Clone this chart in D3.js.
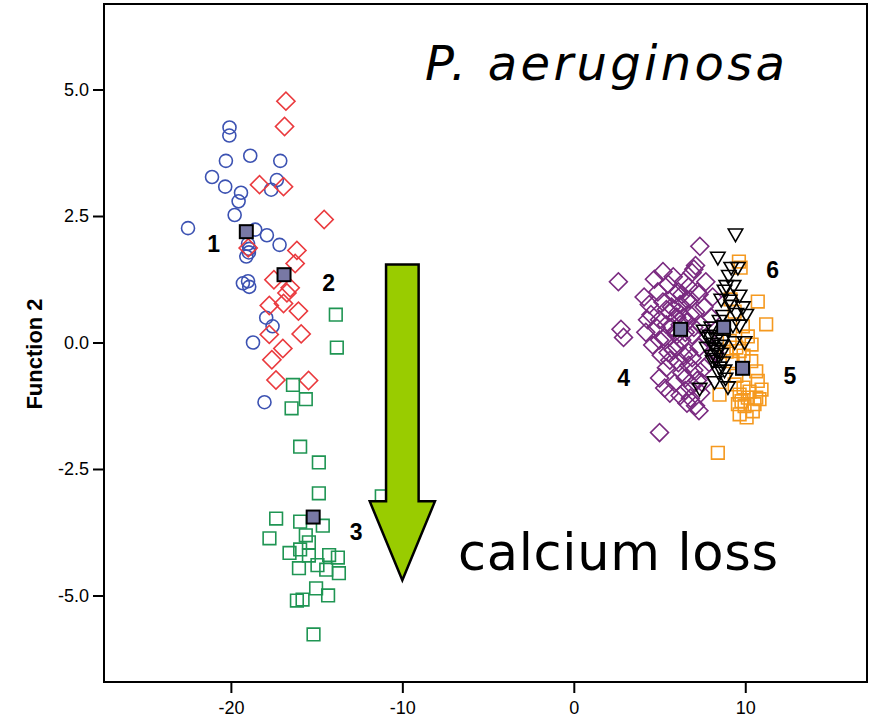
<!DOCTYPE html>
<meta charset="utf-8">
<script src="https://d3js.org/d3.v7.min.js"></script>
<style>
  body { margin: 0; background: #fff; }
</style>
<body>
<script>

// group 1 - circles
var g1 = [[-20.08,4.25],[-20.09,4.09],[-18.87,3.69],[-20.29,3.59],[-17.12,3.59],[-21.10,3.27],[-20.33,3.08],
  [-19.41,2.96],[-17.32,3.21],[-17.65,3.02],[-19.55,2.79],[-19.78,2.52],[-22.50,2.26],[-18.58,2.23],[-17.90,2.12],
  [-17.16,1.93],[-19.00,1.95],[-18.93,1.85],[-18.95,1.78],[-19.10,1.70],[-19.30,1.17],[-19.00,1.21],[-18.93,1.10],
  [-17.94,0.49],[-17.57,0.32],[-18.71,0.00],[-18.04,-1.18]]
// group 2 - red diamonds
var g2 = [[-16.79,4.77],[-16.87,4.27],[-18.33,3.12],[-16.93,3.08],[-14.56,2.43],[-16.15,1.82],[-16.25,1.56],
  [-18.99,1.87],[-17.49,1.24],[-16.54,1.08],[-16.73,0.98],[-16.06,0.62],[-17.76,0.73],[-16.93,0.77],[-17.76,0.16],
  [-15.90,0.17],[-16.97,-0.12],[-17.61,-0.34],[-17.37,-0.74],[-15.47,-0.75]]
// group 3 - green squares
var g3 = [[-13.88,0.55],[-13.82,-0.10],[-16.38,-0.84],[-15.63,-1.12],[-16.46,-1.30],[-15.96,-2.06],[-14.87,-2.37],
  [-14.87,-2.98],[-11.20,-3.04],[-17.36,-3.48],[-15.96,-3.54],[-14.64,-3.62],[-17.75,-3.87],[-15.63,-3.81],
  [-15.45,-3.95],[-15.96,-4.09],[-16.58,-4.16],[-14.27,-4.20],[-13.76,-4.25],[-15.45,-4.21],[-16.03,-4.46],
  [-14.95,-4.40],[-14.44,-4.49],[-13.70,-4.56],[-15.03,-4.86],[-14.33,-5.00],[-16.15,-5.10],[-15.82,-5.08],[-15.18,-5.77]]
// group 4 - purple diamonds
var g4 = [[2.6,1.2],[2.75,0.26],[2.9,0.1],[5.0,-1.78],[7.35,1.9],[7.0,1.45],[6.9,1.38],[7.1,1.52],
  [4.1,0.9],[4.5,0.55],[4.2,0.2],[4.6,-0.05],[4.4,0.75],[4.9,1.0],[5.0,0.45],[5.2,0.8],[5.1,-0.25],[5.3,0.1],
  [5.5,1.15],[5.6,0.6],[5.4,-0.5],[5.7,0.3],[5.8,-0.15],[5.9,0.95],[6.0,0.5],[6.1,-0.4],[6.2,0.75],[6.3,0.05],
  [6.4,1.2],[6.5,-0.7],[6.6,0.4],[6.7,-0.2],[6.8,0.85],[6.9,0.15],[7.0,-0.55],[7.1,0.6],[7.2,1.0],[7.3,-0.1],
  [7.4,0.35],[7.5,-0.8],[7.6,0.7],[7.8,0.1],[7.9,-0.4],[8.0,0.5],[5.0,-0.7],[5.3,-0.9],[5.6,-1.0],[5.9,-0.8],
  [6.2,-1.05],[6.5,-0.95],[6.8,-1.1],[7.1,-1.25],[7.4,-1.0],[4.8,0.3],[5.4,0.35],[6.0,0.15],[6.6,0.85],[7.3,0.95],
  [6.3,-0.6],[5.8,1.3],[6.7,1.1],[7.7,1.2],[7.0,0.3],[6.1,1.0],[5.5,-0.2],[6.9,-0.85],[7.6,-0.5],[4.7,1.25],
  [5.2,1.4],[8.1,0.9],[8.2,-0.2],[7.3,-1.35],[6.4,0.5],[5.0,0.05],[4.3,0.45],
  [5.9,0.2],[6.2,0.35],[6.5,0.2],[6.0,-0.1],[6.4,-0.25],[6.8,0.55],[5.7,0.7],[6.3,0.95],[6.7,-0.45],[5.6,-0.35],
  [6.1,0.6],[6.9,-0.3],[5.4,0.65],[7.2,-0.75],[6.6,-1.2]]
// group 5 - orange squares
var g5 = [[9.63,1.60],[9.73,1.48],[10.73,0.81],[11.22,0.36],[10.15,0.12],[9.86,0.32],[9.09,0.03],[9.48,-0.10],
  [9.67,-0.17],[10.35,-0.37],[10.64,-0.57],[10.73,-0.76],[9.48,-0.66],[8.50,-1.03],[9.67,-1.03],[10.15,-1.09],
  [10.64,-1.09],[9.57,-1.22],[9.96,-1.26],[10.44,-1.36],[9.67,-1.42],[10.83,-1.12],[8.40,-2.18],[9.90,-0.89],
  [10.25,-0.97],[9.78,-1.16],[10.54,-1.22],[10.08,-1.48],[9.38,-0.83],[10.95,-0.93],[9.26,-0.37],[8.91,-0.18],
  [10.37,-0.04],[9.90,-0.26],[9.38,0.61],[9.14,0.85]]
// group 6 - triangles
var g6 = [[9.43,2.16],[8.40,1.70],[9.18,1.50],[9.57,1.50],[9.04,1.34],[8.89,1.14],[8.79,1.05],[9.67,0.95],
  [8.60,0.87],[9.18,0.75],[9.86,0.72],[9.48,0.59],[10.06,0.57],[8.70,0.55],[8.02,0.32],[9.28,0.36],[9.67,0.36],
  [7.82,0.12],[8.31,0.09],[8.70,0.06],[9.38,0.03],[9.96,0.03],[8.21,-0.10],[8.60,-0.20],[8.31,-0.30],[8.70,-0.37],
  [8.50,-0.47],[8.79,-0.53],[8.21,-0.76],[8.99,-0.86],[7.34,-0.89],[7.92,0.16],[8.10,0.0],[8.39,-0.14],[8.04,-0.24],
  [8.62,-0.04],[7.75,-0.08],[8.44,-0.57],[8.10,-0.34],[8.85,-0.69],[7.57,0.26],[9.09,0.85],[8.50,0.45],[9.32,1.14]]

// group centroids and their labels
var centroids = [[-19.1,2.19],[-16.9,1.34],[-15.2,-3.45],[6.23,0.26],[9.84,-0.51],[8.74,0.30]]
var centroidNames = ["1","2","3","4","5","6"]
var namePos = [[-21.0,1.78],[-14.3,1.02],[-12.7,-3.9],[2.9,-0.86],[12.6,-0.83],[11.6,1.27]]

var xTicks = [-20, -10, 0, 10]
var yTicks = [-5, -2.5, 0, 2.5, 5]

var width = 877, height = 719
var mLeft = 104, mRight = 867, mTop = 4, mBottom = 682

var x = d3.scaleLinear().domain([-27.4, 17.1]).range([mLeft, mRight])
var y = d3.scaleLinear().domain([-6.71, 6.69]).range([mBottom, mTop])

var svg = d3.select("body").append("svg")
    .attr("width", width)
    .attr("height", height)

// axes
var xAxis = svg.append("g")
    .attr("transform", "translate(0," + mBottom + ")")
    .call(d3.axisBottom(x).tickValues(xTicks).tickSize(11).tickPadding(8).tickFormat(function(d) { return String(d) }))
var yAxis = svg.append("g")
    .attr("transform", "translate(" + mLeft + ",0)")
    .call(d3.axisLeft(y).tickValues(yTicks).tickSize(11).tickPadding(4).tickFormat(function(d) { return d.toFixed(1) }))
;[xAxis, yAxis].forEach(function(g) {
  g.attr("font-size", 18).attr("font-family", "Liberation Sans, Arial, sans-serif")
  g.select(".domain").remove()
  g.selectAll(".tick line").attr("stroke", "#000").attr("stroke-width", 2)
  g.selectAll(".tick text").attr("fill", "#000")
})

svg.append("rect")
    .attr("x", mLeft).attr("y", mTop)
    .attr("width", mRight - mLeft).attr("height", mBottom - mTop)
    .attr("fill", "none").attr("stroke", "#000").attr("stroke-width", 2)

svg.append("text")
    .attr("transform", "translate(42,354) rotate(-90)")
    .attr("text-anchor", "middle")
    .style("font-family", "Liberation Sans, Arial, sans-serif")
    .style("font-weight", "bold")
    .style("font-size", "22px")
    .text("Function 2")

// points
function drawGroup(data, type, size, color, rot) {
  var sym = d3.symbol().type(type).size(size)
  svg.append("g").selectAll("path").data(data).join("path")
      .attr("d", sym)
      .attr("transform", function(d) { return "translate(" + x(d[0]) + "," + y(d[1]) + ") rotate(" + rot + ")" })
      .attr("fill", "none")
      .attr("stroke", color)
      .attr("stroke-width", 1.6)
}
drawGroup(g1, d3.symbolCircle, 133, "#3c52b2", 0)
drawGroup(g2, d3.symbolSquare, 165, "#ea3a3e", 45)
drawGroup(g3, d3.symbolSquare, 160, "#1f9553", 0)
drawGroup(g4, d3.symbolSquare, 160, "#7a2a80", 45)
drawGroup(g5, d3.symbolSquare, 160, "#f5991f", 0)
drawGroup(g6, d3.symbolTriangle, 90, "#000", 180)

// centroids
svg.append("g").selectAll("rect").data(centroids).join("rect")
    .attr("x", function(d) { return x(d[0]) - 6.5 })
    .attr("y", function(d) { return y(d[1]) - 6.5 })
    .attr("width", 13).attr("height", 13)
    .attr("fill", "#7878a4").attr("stroke", "#000").attr("stroke-width", 2)

svg.append("g").selectAll("text").data(namePos).join("text")
    .attr("x", function(d) { return x(d[0]) })
    .attr("y", function(d) { return y(d[1]) })
    .attr("text-anchor", "middle")
    .style("font-family", "Liberation Sans, Arial, sans-serif")
    .style("font-weight", "bold")
    .style("font-size", "23px")
    .text(function(d, i) { return centroidNames[i] })

// the big arrow
var arrow = [[-10.95, 1.54], [-9.05, 1.54], [-9.05, -3.14], [-8.1, -3.14], [-10.0, -4.7], [-11.9, -3.14], [-10.95, -3.14]]
svg.append("path")
    .attr("d", d3.line().x(function(d) { return x(d[0]) }).y(function(d) { return y(d[1]) })(arrow) + "Z")
    .attr("fill", "#99cc00").attr("stroke", "#000").attr("stroke-width", 2.5)
    .attr("stroke-linejoin", "miter")

svg.append("text")
    .attr("x", 425).attr("y", 80)
    .style("font-family", "DejaVu Sans, Verdana, sans-serif")
    .style("font-style", "italic")
    .style("font-size", "48px")
    .attr("textLength", 360)
    .text("P. aeruginosa")

svg.append("text")
    .attr("x", 458).attr("y", 570)
    .style("font-family", "DejaVu Sans, Verdana, sans-serif")
    .style("font-size", "51px")
    .attr("textLength", 320)
    .text("calcium loss")

</script>
</body>
